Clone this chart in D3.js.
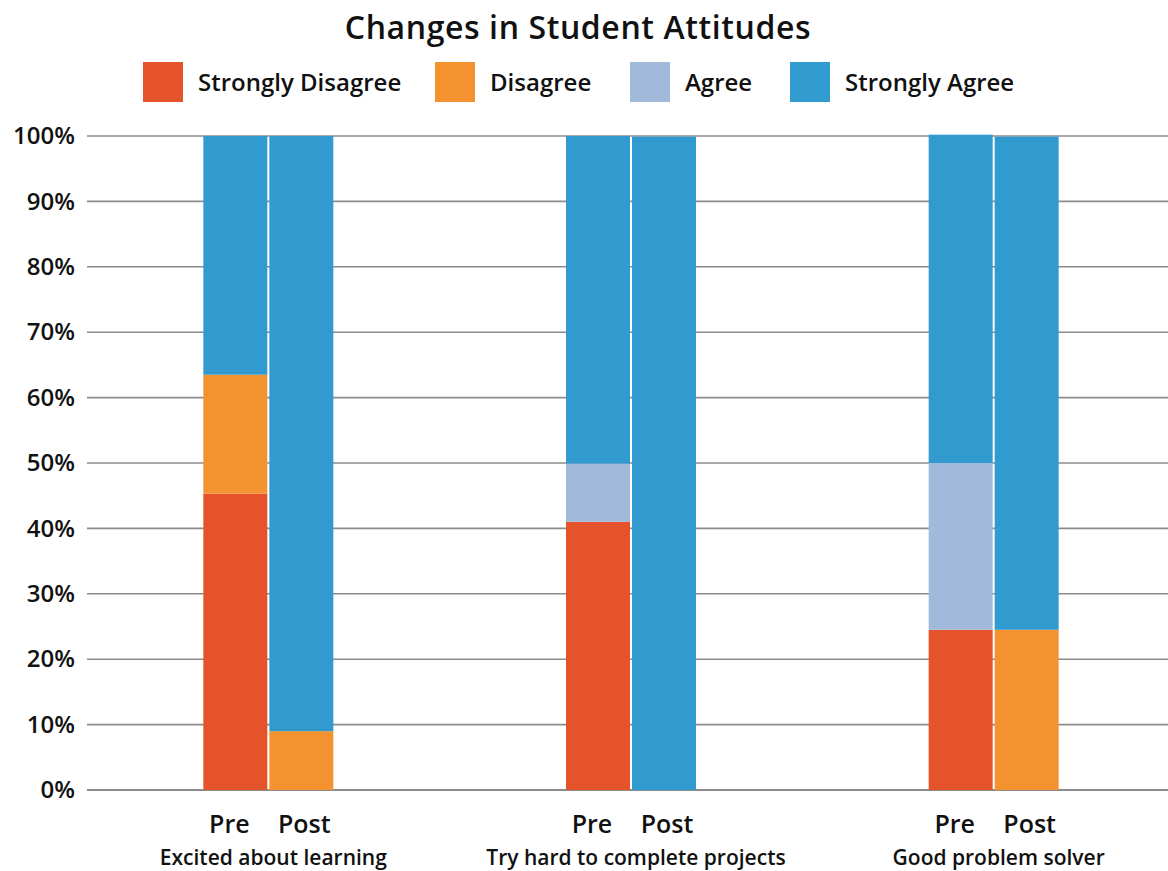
<!DOCTYPE html>
<html>
<head>
<meta charset="utf-8">
<script src="https://cdn.jsdelivr.net/npm/d3@7"></script>
<style>
  body { margin: 0; background: #fff; }
  svg { display: block; font-family: "Open Sans", Lato, sans-serif; }
</style>
</head>
<body>
<div id="chart"></div>
<script>
// data (percent of students)
var categories = ["Excited about learning", "Try hard to complete projects", "Good problem solver"];
var phases = ["Pre", "Post"];
var keys = ["Strongly Disagree", "Disagree", "Agree", "Strongly Agree"];
var colors = ["#E5532A", "#F3922E", "#A1BADB", "#319BD0"];
var yTicks = [0, 10, 20, 30, 40, 50, 60, 70, 80, 90, 100];

// one value per bar: Pre, Post for each category in order
var stronglyDisagree = [45.3, 0, 41.0, 0, 24.5, 0];
var disagree         = [18.2, 9.0, 0, 0, 0, 24.5];
var agree            = [0, 0, 8.9, 0, 25.5, 0];
var stronglyAgree    = [36.5, 91.0, 50.1, 99.9, 50.2, 75.4];

var rows = [];
categories.forEach(function(c, i) {
  phases.forEach(function(p, j) {
    var k = i * 2 + j;
    rows.push({
      category: c, phase: p,
      "Strongly Disagree": stronglyDisagree[k],
      "Disagree": disagree[k],
      "Agree": agree[k],
      "Strongly Agree": stronglyAgree[k]
    });
  });
});

var W = 1168, H = 871;
var margin = {top: 136, right: 0, bottom: 81, left: 87};
var FONT = "'Open Sans', Lato, sans-serif";

var svg = d3.select("#chart").append("svg")
  .attr("width", W)
  .attr("height", H);

var x0 = d3.scaleBand()
  .domain(categories)
  .range([margin.left, 1175]);

var x1 = d3.scaleBand()
  .domain(phases)
  .range([0, 130])
  .paddingInner(2 / 66);

var y = d3.scaleLinear()
  .domain([0, 100])
  .range([H - margin.bottom, margin.top]);

var color = d3.scaleOrdinal().domain(keys).range(colors);

// grid lines
svg.append("g")
  .attr("class", "grid")
  .selectAll("line")
  .data(yTicks)
  .enter().append("line")
  .attr("x1", margin.left)
  .attr("x2", W)
  .attr("y1", function(d) { return y(d); })
  .attr("y2", function(d) { return y(d); })
  .attr("stroke", function(d) { return d === 0 ? "#666" : "#8c8c8c"; })
  .attr("stroke-width", 1.6);

// y axis labels
var axisY = d3.axisLeft(y)
  .tickValues(yTicks)
  .tickSize(0)
  .tickPadding(12)
  .tickFormat(function(d) { return d + "%"; });

svg.append("g")
  .attr("class", "axis axis--y")
  .attr("transform", "translate(" + margin.left + ",0)")
  .call(axisY)
  .attr("font-family", FONT)
  .attr("font-size", 24)
  .attr("font-weight", 600)
  .call(function(g) {
    g.select(".domain").remove();
    g.selectAll("text").attr("fill", "#111");
  });

// stacked bars
var stack = d3.stack().keys(keys);
var series = stack(rows);

function groupLeft(c) {
  return x0(c) + x0.bandwidth() / 2 - 65;
}

svg.append("g")
  .selectAll("g")
  .data(series)
  .enter().append("g")
  .attr("fill", function(d) { return color(d.key); })
  .selectAll("rect")
  .data(function(d) { return d.filter(function(s) { return s[1] - s[0] > 0; }); })
  .enter().append("rect")
  .attr("x", function(d) { return groupLeft(d.data.category) + x1(d.data.phase); })
  .attr("width", x1.bandwidth())
  .attr("y", function(d) { return y(d[1]); })
  .attr("height", function(d) { return y(d[0]) - y(d[1]); });

// Pre / Post labels
var phaseShift = {Pre: -6, Post: 3};
svg.append("g")
  .selectAll("text")
  .data(rows)
  .enter().append("text")
  .attr("x", function(d) {
    return groupLeft(d.category) + x1(d.phase) + x1.bandwidth() / 2 + phaseShift[d.phase];
  })
  .attr("y", 833)
  .attr("text-anchor", "middle")
  .style("font-size", "25px")
  .style("font-weight", "600")
  .style("fill", "#111")
  .text(function(d) { return d.phase; });

// category labels
svg.append("g")
  .selectAll("text")
  .data(categories)
  .enter().append("text")
  .attr("x", function(d) { return x0(d) + x0.bandwidth() / 2 + 5; })
  .attr("y", 865)
  .attr("text-anchor", "middle")
  .style("font-size", "21px")
  .style("font-weight", "600")
  .style("fill", "#111")
  .text(function(d) { return d; });

// title
svg.append("text")
  .attr("x", 578)
  .attr("y", 39)
  .attr("text-anchor", "middle")
  .style("font-size", "32px")
  .style("font-weight", "600")
  .style("letter-spacing", "0.6px")
  .style("fill", "#111")
  .text("Changes in Student Attitudes");

// legend
var legendX = [143, 435, 630, 790];
var legend = svg.append("g")
  .selectAll("g")
  .data(keys)
  .enter().append("g")
  .attr("transform", function(d, i) { return "translate(" + legendX[i] + ",62)"; });

legend.append("rect")
  .attr("width", 40)
  .attr("height", 40)
  .attr("fill", function(d) { return color(d); });

legend.append("text")
  .attr("x", 55)
  .attr("y", 29)
  .style("font-size", "24px")
  .style("font-weight", "600")
  .style("fill", "#111")
  .text(function(d) { return d; });
</script>
</body>
</html>
